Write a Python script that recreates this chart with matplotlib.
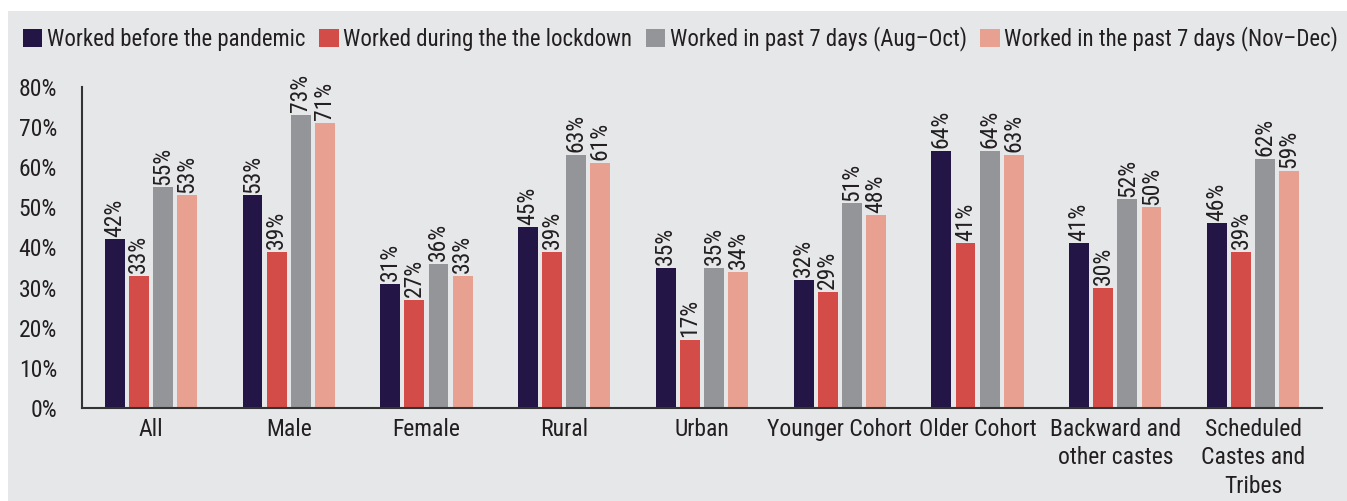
import numpy as np
import matplotlib.pyplot as plt
from matplotlib import font_manager
from matplotlib.patches import Rectangle, Patch

# --- Data ---
categories = ["All", "Male", "Female", "Rural", "Urban", "Younger Cohort",
              "Older Cohort", "Backward and\nother castes",
              "Scheduled\nCastes and\nTribes"]
before = [42, 53, 31, 45, 35, 32, 64, 41, 46]
during = [33, 39, 27, 39, 17, 29, 41, 30, 39]
aug_oct = [55, 73, 36, 63, 35, 51, 64, 52, 62]
nov_dec = [53, 71, 33, 61, 34, 48, 63, 50, 59]
series_names = ["Worked before the pandemic", "Worked during the the lockdown",
                "Worked in past 7 days (Aug\u2013Oct)",
                "Worked in the past 7 days (Nov\u2013Dec)"]
yticks = [0, 10, 20, 30, 40, 50, 60, 70, 80]

# --- Style ---
colors = ["#231546", "#d44c48", "#939598", "#e8a091"]
bg = "#e6e7e9"
txt = "#231f20"

# pick a condensed sans if one is around
available = {f.name for f in font_manager.fontManager.ttflist}
font = None
for cand in ['Nimbus Sans Narrow', 'Liberation Sans Narrow', 'Arial Narrow',
             'Roboto Condensed', 'Archivo Narrow', 'PT Sans Narrow',
             'Fira Sans Condensed', 'IBM Plex Sans Condensed', 'Encode Sans Condensed',
             'Asap Condensed', 'Barlow Semi Condensed']:
    if cand in available:
        font = cand
        break
if font:
    plt.rcParams['font.family'] = [font, 'DejaVu Sans']
else:
    plt.rcParams['font.family'] = ['DejaVu Sans']
    plt.rcParams['font.stretch'] = 'condensed'
fs = 17
fs_leg = 16.4

fig = plt.figure(figsize=(13.47, 5.01), dpi=100)
fig.patches.append(Rectangle((8 / 1347, 0), 1, 1 - 11 / 501, transform=fig.transFigure,
                             facecolor=bg, edgecolor='none', zorder=-10))
ax = fig.add_axes([82 / 1347, 1 - 408 / 501, (1322 - 82) / 1347, (408 - 87) / 501])
ax.set_facecolor('none')

x = np.arange(len(categories))
width = 0.145
step = 0.175
all_series = [before, during, aug_oct, nov_dec]
for i, (vals, col) in enumerate(zip(all_series, colors)):
    pos = x + (i - 1.5) * step
    ax.bar(pos, vals, width=width, color=col, zorder=2)
    for p, v in zip(pos, vals):
        ax.annotate(f"{v}%", (p, v), xytext=(0, 2), textcoords='offset points',
                    rotation=90, ha='center', va='bottom', fontsize=fs,
                    color=txt, annotation_clip=False)

ax.set_xlim(-0.5, len(categories) - 0.5)
ax.set_ylim(0, 80)
ax.set_yticks(yticks)
ax.set_yticklabels([f"{t}%" for t in yticks], fontsize=fs, color=txt)
ax.set_xticks(x)
ax.set_xticklabels(categories, fontsize=fs, color=txt, linespacing=1.3)
ax.tick_params(length=0, pad=7)
ax.tick_params(axis='y', pad=18)
for s in ['top', 'right']:
    ax.spines[s].set_visible(False)
for s in ['left', 'bottom']:
    ax.spines[s].set_color('#333333')
    ax.spines[s].set_linewidth(1.5)

handles = [Patch(facecolor=c, edgecolor='none') for c in colors]
fig.legend(handles, series_names, loc='upper left', bbox_to_anchor=(14 / 1347, 1 - 17 / 501),
           ncol=4, frameon=False, fontsize=fs_leg, handlelength=0.85, handleheight=0.85,
           handletextpad=0.2, columnspacing=0.6, borderaxespad=0, labelcolor=txt)

fig.savefig("out.png", dpi=100)
